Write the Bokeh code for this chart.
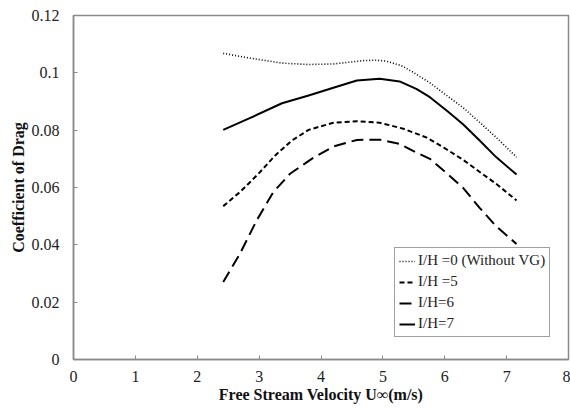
from bokeh.plotting import figure
from bokeh.models import Range1d, FixedTicker, Legend, LegendItem
from bokeh.embed import file_html
from bokeh.resources import INLINE

# Drag coefficient vs. free stream velocity for several I/H ratios
x_ih0 = [2.42, 2.83, 3.37, 3.80, 4.20, 4.45, 4.70, 4.90, 5.05, 5.30, 5.49, 5.76,
         6.00, 6.30, 6.56, 6.83, 7.16]
cd_ih0 = [0.1068, 0.1052, 0.1034, 0.1029, 0.1031, 0.1037, 0.1043, 0.1044, 0.1041,
          0.1025, 0.1002, 0.0965, 0.0926, 0.0878, 0.0828, 0.0775, 0.0706]

x_ih5 = [2.42, 2.69, 2.99, 3.26, 3.53, 3.80, 4.20, 4.58, 4.95, 5.33, 5.70, 6.00,
         6.30, 6.56, 6.83, 7.16]
cd_ih5 = [0.0535, 0.0584, 0.0648, 0.0712, 0.0764, 0.0801, 0.0826, 0.0831, 0.0826,
          0.0805, 0.0775, 0.0737, 0.0696, 0.0655, 0.0613, 0.0555]

x_ih6 = [2.42, 2.69, 2.96, 3.23, 3.50, 3.85, 4.20, 4.58, 4.95, 5.27, 5.54, 5.76,
         6.03, 6.30, 6.56, 6.83, 7.16]
cd_ih6 = [0.0270, 0.0369, 0.0485, 0.0584, 0.0648, 0.0700, 0.0743, 0.0766, 0.0767,
          0.0752, 0.0722, 0.0700, 0.0650, 0.0598, 0.0530, 0.0465, 0.0403]

x_ih7 = [2.42, 2.83, 3.37, 3.80, 4.20, 4.58, 4.95, 5.27, 5.54, 5.76, 6.05, 6.30,
         6.56, 6.83, 7.16]
cd_ih7 = [0.0801, 0.0840, 0.0894, 0.0921, 0.0948, 0.0973, 0.0979, 0.0970, 0.0944,
          0.0915, 0.0865, 0.0820, 0.0765, 0.0706, 0.0645]

labels = ["I/H =0 (Without VG)", "I/H =5", "I/H=6", "I/H=7"]
x_ticks = [0, 1, 2, 3, 4, 5, 6, 7, 8]
y_ticks = [0, 0.02, 0.04, 0.06, 0.08, 0.1, 0.12]

SERIF = "Liberation Serif"
AXIS_GREY = "#8a8a8a"

p = figure(width=570, height=410, output_backend="svg", toolbar_location=None,
           x_range=Range1d(0, 8), y_range=Range1d(0, 0.12),
           min_border_left=73, min_border_right=2, min_border_top=15,
           min_border_bottom=51)
p.grid.visible = False
p.outline_line_color = AXIS_GREY
p.outline_line_width = 1.5
p.background_fill_color = "white"
p.border_fill_color = "white"

r0 = p.line(x_ih0, cd_ih0, line_color="black", line_width=1.6, line_dash="1 2",
            line_join="round")
r5 = p.line(x_ih5, cd_ih5, line_color="black", line_width=2, line_dash="5 3",
            line_join="round")
r6 = p.line(x_ih6, cd_ih6, line_color="black", line_width=2, line_dash="12 6",
            line_join="round")
r7 = p.line(x_ih7, cd_ih7, line_color="black", line_width=2, line_join="round")

for ax in (p.xaxis[0], p.yaxis[0]):
    ax.axis_line_color = AXIS_GREY
    ax.axis_line_width = 1.5
    ax.major_tick_line_color = AXIS_GREY
    ax.major_tick_in = 4
    ax.major_tick_out = 0
    ax.minor_tick_line_color = None
    ax.major_label_text_font = SERIF
    ax.major_label_text_font_size = "16px"
    ax.major_label_text_color = "#222222"
    ax.axis_label_text_font = SERIF
    ax.axis_label_text_font_style = "bold"
    ax.axis_label_text_font_size = "16px"
    ax.axis_label_text_color = "#111111"

p.xaxis.ticker = FixedTicker(ticks=x_ticks)
p.yaxis.ticker = FixedTicker(ticks=y_ticks)
p.yaxis.major_label_overrides = {0: "0", 0.1: "0.1"}
p.xaxis.major_label_standoff = 11
p.yaxis.major_label_standoff = 14
p.xaxis.axis_label = "Free Stream Velocity U\u221e(m/s)"
p.yaxis.axis_label = "Coefficient of Drag"
p.xaxis.axis_label_standoff = 1
p.yaxis.axis_label_standoff = 2

legend = Legend(items=[LegendItem(label=labels[0], renderers=[r0]),
                       LegendItem(label=labels[1], renderers=[r5]),
                       LegendItem(label=labels[2], renderers=[r6]),
                       LegendItem(label=labels[3], renderers=[r7])],
                location=(321, 22))
legend.label_text_font = SERIF
legend.label_text_font_size = "15px"
legend.label_text_color = "#222222"
legend.border_line_color = "#444444"
legend.border_line_width = 1.2
legend.glyph_width = 16
legend.glyph_height = 14
legend.spacing = 4
legend.padding = 4
legend.margin = 0
legend.label_standoff = 3
legend.background_fill_alpha = 1
p.add_layout(legend)

open("out.html", "w").write(file_html(p, INLINE))
